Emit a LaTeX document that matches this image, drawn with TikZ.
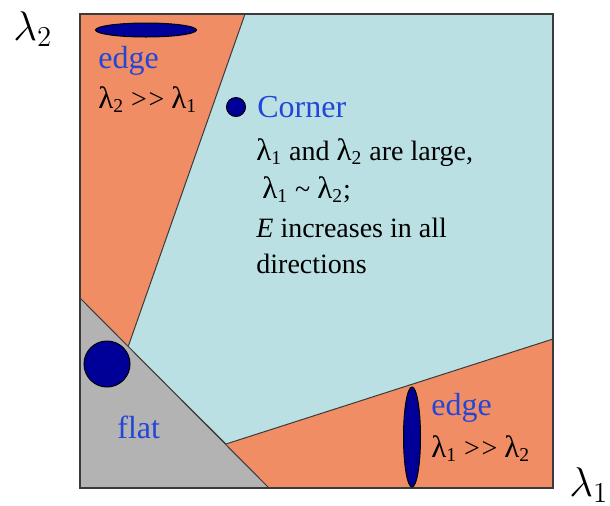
\documentclass[tikz,border=0pt]{standalone}
\usepackage{fontspec}
\setmainfont{Liberation Serif}
\newfontfamily\tnr{Liberation Serif}
\usetikzlibrary{positioning,calc}
\definecolor{fsalmon}{HTML}{F18D65}
\definecolor{fcyan}{HTML}{BAE0E3}
\definecolor{fgray}{HTML}{B3B3B3}
\definecolor{fdark}{HTML}{000099}
\definecolor{fblue}{HTML}{2346D8}
\definecolor{fline}{HTML}{3A3A3A}
\newcommand{\lm}[1]{{\fontsize{15.5}{17}\selectfont λ}\textsubscript{#1}}
\newcommand{\dblgt}{>\kern0.8pt>}
\tikzset{
  region/.style = {draw=fline, line width=0.5pt},
  blob/.style   = {draw=black, fill=fdark, line width=0.5pt},
  lbl/.style    = {anchor=base west, inner sep=0pt,
                   font=\tnr\fontsize{14}{17}\selectfont},
  hdr/.style    = {anchor=base west, inner sep=0pt, text=fblue,
                   font=\tnr\fontsize{16}{19}\selectfont},
  axlbl/.style  = {anchor=base west, inner sep=0pt,
                   font=\fontsize{21.5}{25}\selectfont},
}

\begin{document}
\begin{tikzpicture}[x=0.5pt,y=-0.5pt]
\useasboundingbox (0,0) rectangle (610,505);
% corners of the square
\coordinate (tl) at (80,14);
\coordinate (tr) at (553,14);
\coordinate (br) at (553,488);
\coordinate (bl) at (80,488);
% region boundaries
\coordinate (etop) at (245,14);
\coordinate (emid) at (128,347);
\coordinate (fleft) at (80,298);
\coordinate (fbot) at (269,488);
\coordinate (elow) at (226,444);
\coordinate (eright) at (553,339);
\fill[fsalmon] (tl) rectangle (br);
\filldraw[region,fill=fcyan] (etop) -- (tr) -- (eright) -- (elow) -- (emid) -- cycle;
\filldraw[region,fill=fgray] (fleft) -- (fbot) -- (bl) -- cycle;
\draw[fline,line width=0.8pt] (tl) rectangle (br);
% shapes
\draw[blob] (146,30) ellipse [x radius=50.5, y radius=7];
\draw[blob] (236,107) circle (9.5);
\draw[blob] (107,364) circle (23);
\draw[blob] (412,437) ellipse [x radius=8.5, y radius=50];
% labels
\node[hdr] (edgeA) at (98,68) {edge};
\node[lbl] (ruleA) at (98,108) {\lm2 \dblgt{} \lm1};
\node[hdr] (corner) at (257,117) {Corner};
\node[lbl] (cornA) at (256,160) {\lm1 and \lm2 are large,};
\node[lbl] (cornB) at (262,198) {\lm1 \textasciitilde{} \lm2;};
\node[lbl] (cornC) at (256,237) {\textit{E} increases in all};
\node[lbl] (cornD) at (256,273) {directions};
\node[hdr] (flat) at (117,438) {flat};
\node[hdr] (edgeB) at (431,415) {edge};
\node[lbl] (ruleB) at (431,457) {\lm1 \dblgt{} \lm2};
\node[axlbl] (ltwo) at (13,40) {$\lambda_2$};
\node[axlbl] (lone) at (569,496) {$\lambda_1$};
\end{tikzpicture}
\end{document}
